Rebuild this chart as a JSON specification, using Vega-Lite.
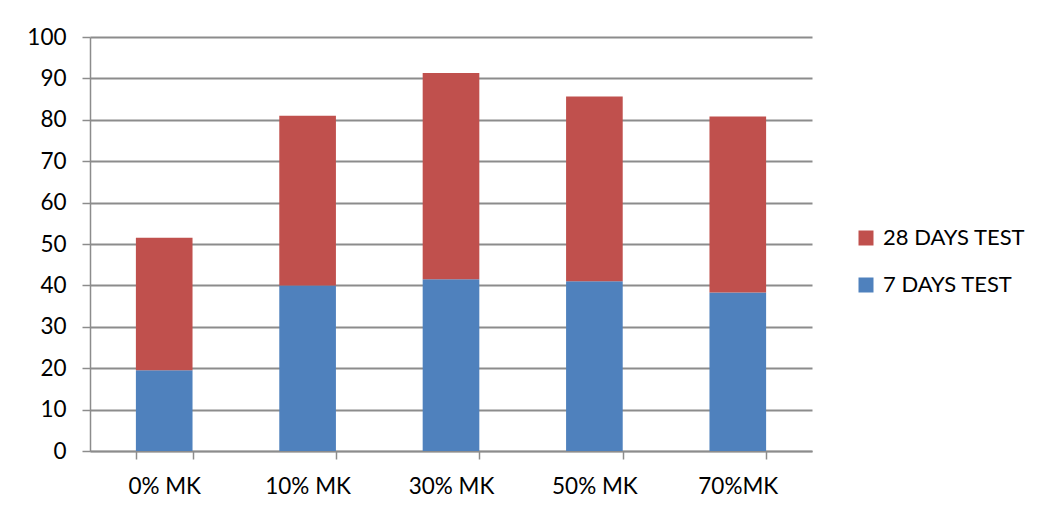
{
  "$schema": "https://vega.github.io/schema/vega-lite/v6.json",
  "width": 722,
  "height": 414,
  "autosize": {"type": "none"},
  "padding": {"left": 90, "top": 37, "right": 228, "bottom": 66},
  "background": "white",
  "data": {
    "values": [
      {"mix": "0% MK", "series": "7 DAYS TEST", "value": 19.5},
      {"mix": "0% MK", "series": "28 DAYS TEST", "value": 32.0},
      {"mix": "10% MK", "series": "7 DAYS TEST", "value": 40.0},
      {"mix": "10% MK", "series": "28 DAYS TEST", "value": 41.0},
      {"mix": "30% MK", "series": "7 DAYS TEST", "value": 41.5},
      {"mix": "30% MK", "series": "28 DAYS TEST", "value": 49.8},
      {"mix": "50% MK", "series": "7 DAYS TEST", "value": 41.0},
      {"mix": "50% MK", "series": "28 DAYS TEST", "value": 44.6},
      {"mix": "70%MK", "series": "7 DAYS TEST", "value": 38.3},
      {"mix": "70%MK", "series": "28 DAYS TEST", "value": 42.5}
    ]
  },
  "mark": {"type": "bar"},
  "encoding": {
    "x": {
      "field": "mix",
      "type": "nominal",
      "sort": null,
      "scale": {"paddingInner": 0.605, "paddingOuter": 0.32},
      "axis": {
        "title": null,
        "labelAngle": 0,
        "tickBand": "extent",
        "tickSize": 8,
        "labelPadding": 16,
        "labelFont": "Lato",
        "labelFontSize": 22.5,
        "labelColor": "#000000",
        "domainColor": "#8c8c8c",
        "domainWidth": 1.5,
        "tickColor": "#8c8c8c",
        "tickWidth": 1.5,
        "grid": false
      }
    },
    "y": {
      "field": "value",
      "type": "quantitative",
      "stack": "zero",
      "scale": {"domain": [0, 100], "nice": false},
      "axis": {
        "title": null,
        "values": [0, 10, 20, 30, 40, 50, 60, 70, 80, 90, 100],
        "tickSize": 8,
        "labelPadding": 16,
        "labelFont": "Lato",
        "labelFontSize": 22.5,
        "labelColor": "#000000",
        "domainColor": "#8c8c8c",
        "domainWidth": 1.5,
        "tickColor": "#8c8c8c",
        "tickWidth": 1.5,
        "grid": true,
        "gridColor": "#8c8c8c",
        "gridWidth": 2
      }
    },
    "color": {
      "field": "series",
      "type": "nominal",
      "scale": {"domain": ["28 DAYS TEST", "7 DAYS TEST"], "range": ["#C0504D", "#4F81BD"]},
      "legend": {
        "title": null,
        "orient": "none",
        "legendX": 765,
        "legendY": 190,
        "symbolType": "square",
        "symbolSize": 225,
        "symbolStrokeWidth": 0,
        "labelFont": "Lato",
        "labelFontSize": 22,
        "labelColor": "#000000",
        "rowPadding": 25,
        "labelOffset": 6
      }
    },
    "order": {"field": "series", "sort": "descending"}
  },
  "config": {"view": {"stroke": null}}
}
